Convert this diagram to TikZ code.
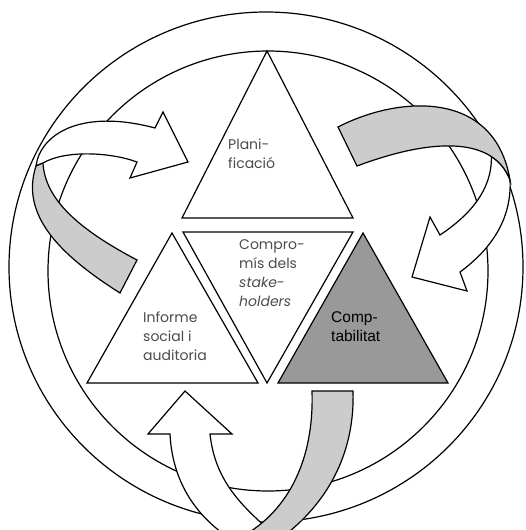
\documentclass[tikz,border=0pt]{standalone}
\usepackage{fontspec}
\setmainfont{Poppins}
\newfontfamily\arialfont{Liberation Sans}
\usetikzlibrary{positioning}

\begin{document}
\begin{tikzpicture}[
  x=1pt, y=-1pt,
  outline/.style={draw=black, line width=1.2pt, line join=miter},
  band/.style={outline, fill=gray!40},
  front/.style={outline, fill=white},
  label/.style={font=\fontsize{14}{19}\selectfont, text=black!70,
                align=left, inner sep=0pt, anchor=north west}
]
\useasboundingbox (0,0) rectangle (525,530);
\clip (0,0) rectangle (525,530);

% ---- CIRCLES ----
\draw[outline] (266,267) ellipse [x radius=257pt, y radius=255pt];
\draw[outline] (268,271) ellipse [x radius=220pt, y radius=220pt];

% ---- TRIANGLES ----
\draw[front] (267,51) -- (182,218) -- (353,218) -- cycle;
\draw[front] (183,232) -- (353,232) -- (267,383) -- cycle;
\draw[front] (172,233) -- (87,383) -- (258,383) -- cycle;
\draw[outline, fill=gray!80] (363,233) -- (278,383) -- (448,383) -- cycle;

% ---- TOP LEFT ARROW (white front, grey back) ----
\draw[front] (36,166) .. controls (40,135) and (80,108) .. (155,128)
  -- (163,112) -- (188,162) -- (130,178) -- (137,162)
  .. controls (110,152) and (65,150) .. (43,163) -- cycle;
\draw[band] (36,166) .. controls (20,215) and (60,255) .. (120,293)
  -- (137,260) .. controls (80,230) and (45,200) .. (43,163) -- cycle;

% ---- TOP RIGHT ARROW ----
\draw[front] (491.4,156.6) .. controls (492,190) and (470,215) .. (440,235)
  -- (430,217) -- (412,277) -- (467,291) -- (460,272)
  .. controls (490,250) and (512,220) .. (510,180)
  .. controls (506.25,170) and (500,162.2) .. (491.4,156.6) -- cycle;
\draw[band] (338,127) .. controls (400,95) and (495,90) .. (510,180)
  .. controls (495,140) and (440,135) .. (357,166) -- cycle;

% ---- BOTTOM ARROW ----
\draw[front] (170,434) .. controls (172,475) and (190,510) .. (225,535)
  -- (275,535) .. controls (240,505) and (215,480) .. (210,434)
  -- (232,434) -- (185,391) -- (148,434) -- cycle;
\draw[band] (312,391) -- (353,391) .. controls (355,450) and (330,500) .. (285,535)
  -- (245,535) .. controls (295,505) and (314,450) .. (312,391) -- cycle;

% ---- LABELS ----
\node[label] (plan) at (228,139) {Plani-\\ficació};
\node[label] (comp) at (239,239) {Compro-\\mís dels\\\textit{stake-}\\\textit{holders}};
\node[label] (info) at (143,312) {Informe\\social i\\auditoria};
\node[label, font=\arialfont\fontsize{15.5}{19}\selectfont, text=black]
  (comt) at (331,311) {Comp-\\tabilitat};

\end{tikzpicture}
\end{document}
